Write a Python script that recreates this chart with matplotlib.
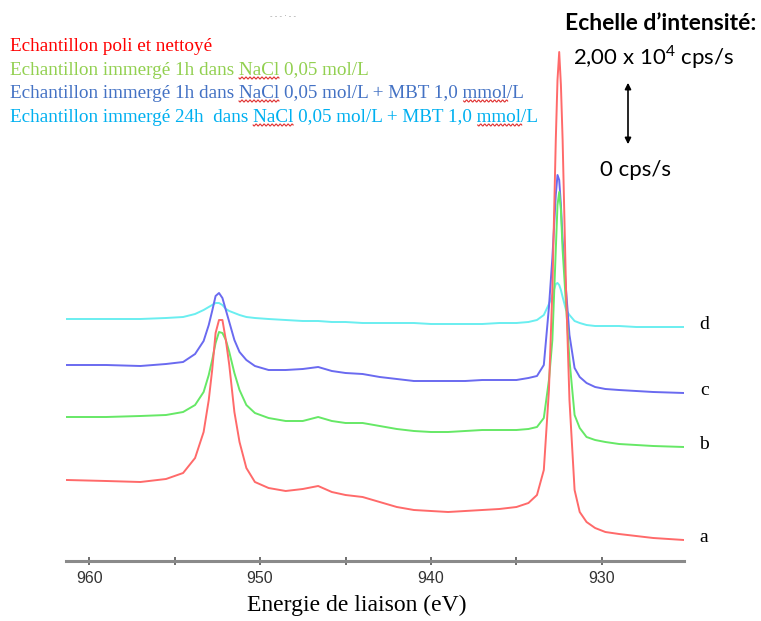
import numpy as np
import matplotlib
matplotlib.use("Agg")
import matplotlib.pyplot as plt
from matplotlib.lines import Line2D
from matplotlib.patches import FancyArrowPatch
from matplotlib.font_manager import FontProperties

# Cu 2p XPS spectra, binding energy (eV) and offset intensities (arb. units)
energy = [961.3, 959, 957, 955.5, 954.5, 953.8, 953.3, 953.0, 952.8, 952.6,
          952.4, 952.2, 952.0, 951.8, 951.5, 951.2, 950.8, 950.3, 949.5, 948.5,
          947.5, 946.6, 945.8, 945, 944, 943, 942, 941, 940, 939,
          938, 937, 936, 935, 934.3, 933.8, 933.4, 933.1, 932.9, 932.7,
          932.6, 932.5, 932.4, 932.3, 932.1, 931.9, 931.6, 931.3, 930.9, 930.4,
          929.8, 929, 928, 927, 925.2]

spec_a = [81, 80, 79, 82, 88, 103, 129, 161, 191, 228,
          241, 241, 221, 196, 149, 119, 93, 79, 73, 70,
          72, 75, 69, 66, 64, 59, 54, 51, 50, 49,
          50, 51, 52, 54, 58, 66, 91, 171, 271, 421,
          481, 509, 476, 421, 271, 161, 71, 49, 39, 33,
          29, 27, 25, 23, 21]
spec_b = [144, 144, 145, 146, 149, 156, 169, 186, 201, 218,
          229, 228, 221, 209, 188, 171, 156, 148, 143, 140,
          140, 144, 140, 138, 138, 135, 132, 130, 129, 129,
          130, 131, 131, 131, 132, 134, 143, 181, 221, 311,
          356, 369, 351, 311, 256, 201, 146, 133, 124, 121,
          119, 117, 116, 115, 114]
spec_c = [196, 196, 195, 197, 199, 207, 220, 236, 250, 265,
          268, 263, 251, 239, 221, 209, 201, 195, 191, 191,
          192, 194, 190, 188, 187, 184, 182, 180, 180, 180,
          180, 181, 181, 181, 183, 185, 196, 254, 303, 366,
          386, 381, 356, 321, 271, 226, 193, 184, 178, 174,
          172, 171, 170, 169, 168]
spec_d = [242, 242, 242, 243, 244, 247, 251, 254, 256, 258,
          258, 256, 252, 250, 248, 246, 244, 243, 242, 241,
          240, 240, 239, 239, 238, 238, 238, 238, 237, 237,
          237, 237, 238, 238, 239, 241, 246, 257, 266, 277,
          278, 276, 271, 264, 251, 246, 240, 238, 236, 235,
          235, 235, 234, 234, 234]

curve_labels = ["a", "b", "c", "d"]
curve_colors = ["#ff6a6a", "#66e866", "#6a6af0", "#6aeef0"]

legend_texts = [
    "Echantillon poli et nettoyé",
    "Echantillon immergé 1h dans NaCl 0,05 mol/L",
    "Echantillon immergé 1h dans NaCl 0,05 mol/L + MBT 1,0 mmol/L",
    "Echantillon immergé 24h  dans NaCl 0,05 mol/L + MBT 1,0 mmol/L",
]
legend_colors = ["#ff0000", "#92d050", "#4472c4", "#00b0f0"]

major_ticks = [960, 950, 940, 930]
minor_ticks = [955, 945, 935]

W, H = 761, 621
fig = plt.figure(figsize=(W / 100, H / 100), dpi=100)
plt.rcParams['mathtext.fontset'] = 'custom'
plt.rcParams['mathtext.rm'] = 'Lato'


def fx(px):
    return px / W


def fy(py):
    return 1 - py / H


ax = fig.add_axes([fx(66), fy(561), fx(684) - fx(66), fy(30) - fy(561)])
ax.set_xlim(961.35, 925.2)
ax.set_ylim(0, 531)

# draw back to front: d, c, b, a
spectra = [spec_a, spec_b, spec_c, spec_d]
for i in [3, 2, 1, 0]:
    ax.plot(energy, spectra[i], color=curve_colors[i], lw=1.4)
    ax.annotate(curve_labels[i], xy=(energy[-1], spectra[i][-1]),
                xytext=(14.5, 2), textcoords='offset points',
                ha='center', va='center', fontsize=14,
                family='Liberation Serif', color='black')

for side in ['left', 'right', 'top']:
    ax.spines[side].set_visible(False)
ax.spines['bottom'].set_color('#8a8a8a')
ax.spines['bottom'].set_linewidth(2.2)
ax.set_yticks([])
ax.set_xticks(major_ticks)
ax.set_xticks(minor_ticks, minor=True)
ax.set_xticklabels([str(t) for t in major_ticks], family='Liberation Sans')
ax.tick_params(axis='x', which='both', direction='inout', length=6,
               width=1.2, color='#555555', labelsize=11.5,
               labelcolor='#333333', pad=4)
ax.patch.set_alpha(0)

fig.text(fx(357), fy(605), "Energie de liaison (eV)", ha='center',
         va='center', fontsize=17, family='Liberation Serif')

# legend lines written as text, with spell-check squiggles
serif = FontProperties(family='Liberation Serif', size=13.8)
renderer = fig.canvas.get_renderer()
baselines = [51, 75, 98, 122]
for txt, col, base in zip(legend_texts, legend_colors, baselines):
    fig.text(fx(10), fy(base), txt, color=col, fontproperties=serif,
             ha='left', va='baseline')
    for word in ["NaCl", "mmol"]:
        k = txt.find(word)
        if k < 0:
            continue
        x0 = 10 + renderer.get_text_width_height_descent(
            txt[:k].replace(' ', '\u00a0'), serif, ismath=False)[0]
        ww = renderer.get_text_width_height_descent(word, serif, ismath=False)[0]
        xs = np.arange(x0, x0 + ww, 0.5)
        ys = base + 3 + 1.0 * np.sin(2 * np.pi * (xs - x0) / 4)
        fig.add_artist(Line2D(fx(xs), fy(ys), color='#e03030', lw=0.8))

fig.text(fx(283), fy(16), "- - - · - -", color='#999999', fontsize=5,
         ha='center', va='center')

# intensity scale bar
fig.text(fx(661), fy(23), "Echelle d\u2019intensité:", ha='center', va='center',
         fontsize=16.5, fontweight='bold', family='Lato')
fig.text(fx(654), fy(57), r"2,00 x 10$^{4}$ cps/s", ha='center', va='center',
         fontsize=16, family='Lato')
fig.text(fx(636), fy(170), "0 cps/s", ha='center', va='center',
         fontsize=16, family='Lato')
fig.add_artist(FancyArrowPatch((fx(628), fy(80)), (fx(628), fy(147)),
                               transform=fig.transFigure, arrowstyle='<|-|>',
                               mutation_scale=9, lw=1.2, color='black'))

fig.savefig("out.png", dpi=100)
